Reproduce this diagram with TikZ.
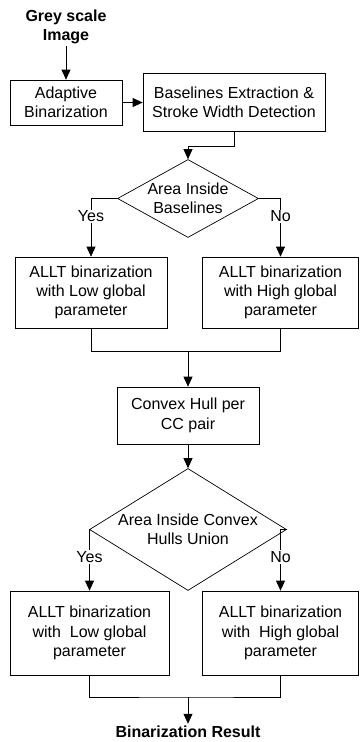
\documentclass[tikz,border=0pt]{standalone}
\usepackage{fontspec}
\setmainfont{Liberation Sans}
\usetikzlibrary{positioning,shapes.geometric,arrows.meta}

\tikzset{
	box/.style = {draw, rectangle, align = center, inner sep = 0pt},
	decision/.style = {draw, diamond, align = center, aspect = 1.6, inner sep = -5pt},
	answer/.style = {fill = white, inner sep = 1pt},
	heading/.style = {align = center, inner sep = 2pt, font = \fontsize{16}{19.3}\selectfont\bfseries}
}

\begin{document}
\begin{tikzpicture}[x = 1pt, y = 1pt, >= {Triangle[length = 10pt, width = 9pt]}, on grid, line width = 0.7pt, font = \fontsize{16}{19.3}\selectfont]
	\useasboundingbox (0,0) rectangle (359,-742);
	\node[heading] (grey) at (66,-27) {Grey scale\\Image};
	\node[box, minimum width = 112pt, minimum height = 45pt] (adapt) [below = 75.5pt of grey] {Adaptive\\Binarization};
	\node[box, minimum width = 182pt, minimum height = 58pt] (base) [right = 168pt of adapt] {Baselines Extraction \&\\Stroke Width Detection};
	\node[decision, minimum width = 141pt, minimum height = 78pt] (dec1) [below left = 96pt and 46pt of base] {Area Inside\\Baselines};
	\node[box, minimum width = 152pt, minimum height = 71pt] (low1) [below left = 94pt and 97pt of dec1] {ALLT binarization\\with Low global\\parameter};
	\node[box, minimum width = 156pt, minimum height = 71pt] (high1) [below right = 94pt and 92.5pt of dec1] {ALLT binarization\\with High global\\parameter};
	\node[box, minimum width = 142pt, minimum height = 57pt] (hull) [below = 217pt of dec1] {Convex Hull per\\CC pair};
	\node[decision, minimum width = 197pt, minimum height = 122pt] (dec2) [below = 114pt of hull] {Area Inside Convex\\Hulls Union};
	\node[box, minimum width = 159pt, minimum height = 84pt] (low2) [below left = 103.5pt and 98.5pt of dec2] {ALLT binarization\\with~ Low global\\parameter};
	\node[box, minimum width = 156pt, minimum height = 84pt] (high2) [below right = 103.5pt and 92.5pt of dec2] {ALLT binarization\\with~ High global\\parameter};
	\node[heading] (result) [below = 202.5pt of dec2] {Binarization Result};
	\coordinate[above = 35pt of hull.north] (j1);
	\coordinate[above = 35pt of result] (j2);
	\draw[->] (grey) -- (adapt);
	\draw[->] (adapt) -- (base);
	\draw[->] (base.south) -- ++(0,-14) -| (dec1.north);
	\draw[->] (dec1.west) -| node[answer, pos = 0.655] {Yes} (low1.north);
	\draw[->] (dec1.east) -| node[answer, pos = 0.655] {No} (high1.north);
	\draw (low1.south) |- (j1) -| (high1.south);
	\draw[->] (j1) -- (hull);
	\draw[->] (hull) -- (dec2);
	\draw[->] (dec2.west) -| node[answer, pos = 0.725] {Yes} (low2.north);
	\draw[->] (dec2.east) -| node[answer, pos = 0.725] {No} (high2.north);
	\draw (low2.south) |- (j2) -| (high2.south);
	\draw[->] (j2) -- (result);
\end{tikzpicture}
\end{document}
